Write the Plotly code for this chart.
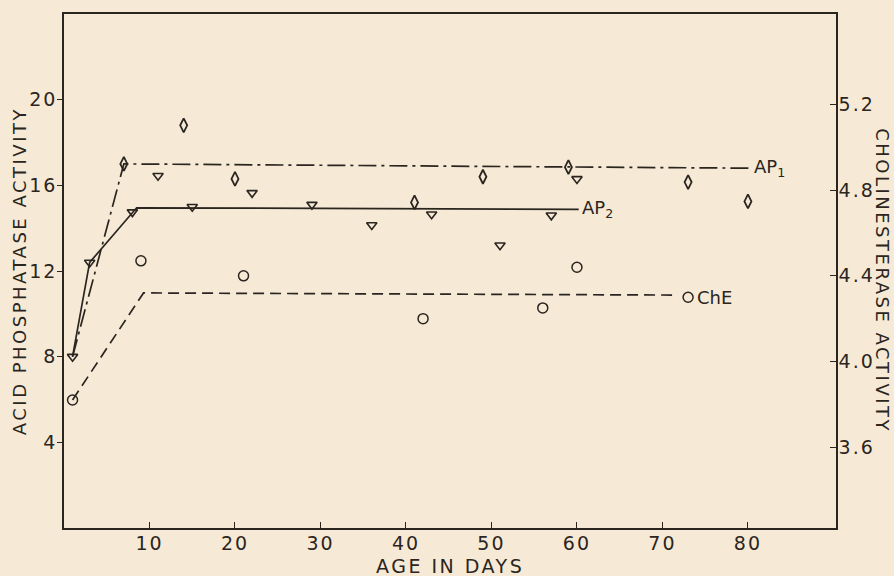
import plotly.graph_objects as go

# ---- data ----
ap1_days = [7, 14, 20, 41, 49, 59, 73, 80]
ap1_vals = [17.0, 18.8, 16.3, 15.2, 16.4, 16.85, 16.15, 15.25]
ap1_line_days = [1, 7, 80.4]
ap1_line_vals = [8.0, 17.0, 16.8]

ap2_days = [1, 3, 8, 11, 15, 22, 29, 36, 43, 51, 57, 60]
ap2_vals = [8.0, 12.4, 14.75, 16.45, 15.0, 15.65, 15.1, 14.15, 14.65, 13.2, 14.6, 16.3]
ap2_line_days = [1, 3, 8.5, 60.2]
ap2_line_vals = [8.0, 12.4, 14.95, 14.88]

che_days = [1, 9, 21, 42, 56, 60, 73]
che_vals = [3.82, 4.47, 4.40, 4.20, 4.25, 4.44, 4.30]
che_line_days = [1, 9.3, 71.8]
che_line_vals = [3.82, 4.32, 4.31]

x_ticks = [10, 20, 30, 40, 50, 60, 70, 80]
left_ticks = [4, 8, 12, 16, 20]
right_ticks = [3.6, 4.0, 4.4, 4.8, 5.2]

INK = "#2b2520"
BG = "#f6ead7"
FONT = "DejaVu Sans"

sp = '<span style="letter-spacing:2px">{}</span>'


def tick_text(vals, fmt):
    return [sp.format(fmt.format(v)) for v in vals]


fig = go.Figure()

# fitted lines
fig.add_trace(go.Scatter(x=ap1_line_days, y=ap1_line_vals, mode="lines",
                         line=dict(color=INK, width=1.7, dash="18px,5px,3px,5px"),
                         showlegend=False, hoverinfo="skip"))
fig.add_trace(go.Scatter(x=ap2_line_days, y=ap2_line_vals, mode="lines",
                         line=dict(color=INK, width=1.7),
                         showlegend=False, hoverinfo="skip"))
fig.add_trace(go.Scatter(x=che_line_days, y=che_line_vals, mode="lines", yaxis="y2",
                         line=dict(color=INK, width=1.7, dash="11px,6px"),
                         showlegend=False, hoverinfo="skip"))

# data points
fig.add_trace(go.Scatter(x=ap1_days, y=ap1_vals, mode="markers",
                         marker=dict(symbol="diamond-tall-open", size=10, color=INK,
                                     line=dict(width=1.8, color=INK)),
                         showlegend=False))
fig.add_trace(go.Scatter(x=ap2_days, y=ap2_vals, mode="markers",
                         marker=dict(symbol="triangle-down-open", size=9, color=INK,
                                     line=dict(width=1.6, color=INK)),
                         showlegend=False))
fig.add_trace(go.Scatter(x=che_days, y=che_vals, mode="markers", yaxis="y2",
                         marker=dict(symbol="circle-open", size=10, color=INK,
                                     line=dict(width=1.5, color=INK)),
                         showlegend=False))

fig.update_layout(
    width=894, height=576,
    margin=dict(l=64, r=58, t=12, b=48),
    paper_bgcolor=BG, plot_bgcolor=BG,
    font=dict(family=FONT, size=17, color=INK),
    xaxis=dict(range=[0, 90.3], tickvals=x_ticks, ticktext=tick_text(x_ticks, "{}"),
               ticks="inside", ticklen=6, ticklabelstandoff=-3,
               tickcolor=INK, showline=True, linecolor=INK, linewidth=1.6,
               mirror=True, showgrid=False, zeroline=False,
               tickfont=dict(size=19)),
    yaxis=dict(range=[0, 24], tickvals=left_ticks, ticktext=tick_text(left_ticks, "{}"),
               ticks="outside", ticklen=5, ticklabelstandoff=-4,
               tickcolor=INK, showline=True, linecolor=INK, linewidth=1.6,
               showgrid=False, zeroline=False, tickfont=dict(size=19)),
    yaxis2=dict(range=[3.222, 5.623], tickvals=right_ticks,
                ticktext=tick_text(right_ticks, "{:.1f}"),
                overlaying="y", side="right", ticks="inside", ticklen=6,
                ticklabelstandoff=-3,
                tickcolor=INK, showline=True, linecolor=INK, linewidth=1.6,
                showgrid=False, zeroline=False, tickfont=dict(size=19)),
)

ls = '<span style="letter-spacing:2.5px">{}</span>'
fig.add_annotation(text=ls.format("ACID PHOSPHATASE ACTIVITY"), xref="paper", yref="paper",
                   x=-0.058, y=0.5, xanchor="center", yanchor="middle", textangle=-90,
                   showarrow=False, font=dict(size=18))
fig.add_annotation(text=ls.format("CHOLINESTERASE ACTIVITY"), xref="paper", yref="paper",
                   x=1.061, y=0.482, xanchor="center", yanchor="middle", textangle=90,
                   showarrow=False, font=dict(size=18))
fig.add_annotation(text=ls.format("AGE IN DAYS"), xref="paper", yref="paper",
                   x=0.5, y=-0.074, xanchor="center", yanchor="middle",
                   showarrow=False, font=dict(size=19))

fig.add_annotation(text="AP<sub>1</sub>", x=80.5, y=ap1_line_vals[-1], xref="x", yref="y",
                   xanchor="left", yanchor="middle", showarrow=False, font=dict(size=18))
fig.add_annotation(text="AP<sub>2</sub>", x=60.4, y=ap2_line_vals[-1], xref="x", yref="y",
                   xanchor="left", yanchor="middle", showarrow=False, font=dict(size=18))
fig.add_annotation(text="ChE", x=73.8, y=che_vals[-1], xref="x", yref="y2",
                   xanchor="left", yanchor="middle", showarrow=False, font=dict(size=18))

fig.write_html("out.html", config={"displayModeBar": False},
               post_script="document.body.style.margin='0';")
